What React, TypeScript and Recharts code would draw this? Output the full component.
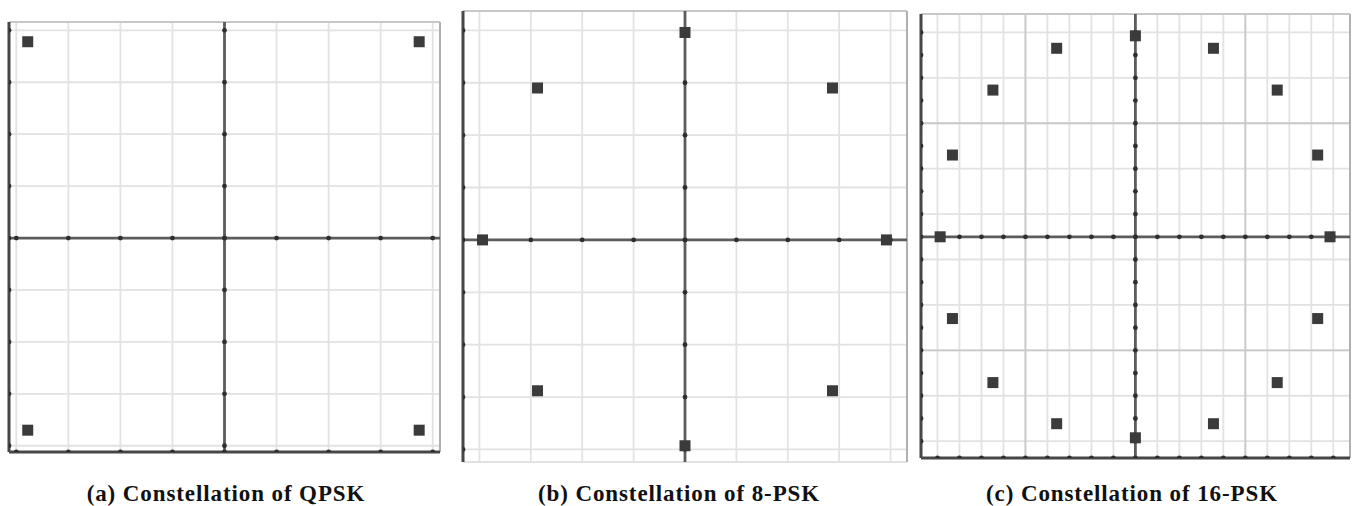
import React from "react";
import { ScatterChart, Scatter, XAxis, YAxis, CartesianGrid, ReferenceLine } from "recharts";

// QPSK symbols (I / Q)
const QPSK_I = [-3.78, 3.74, -3.78, 3.74];
const QPSK_Q = [3.78, 3.78, -3.7, -3.7];
const QPSK_TICKS = [-4, -3, -2, -1, 0, 1, 2, 3, 4];
const QPSK_X_DOMAIN = [-4.14, 4.14];
const QPSK_Y_DOMAIN = [-4.12, 4.16];

// 8-PSK symbols, panel (b)
const PSK8_I = [0, -2.87, 2.87, -3.94, 3.92, -2.87, 2.87, 0];
const PSK8_Q = [3.96, 2.9, 2.9, 0, 0, -2.88, -2.88, -3.93];
const PSK8_TICKS = [-4, -3, -2, -1, 0, 1, 2, 3, 4];
const PSK8_X_DOMAIN = [-4.32, 4.32];
const PSK8_Y_DOMAIN = [-4.24, 4.37];

// 16-PSK symbols, panel (c)
const PSK16_I = [0, 0, -8.88, 8.85, -3.58, 3.55, -6.48, 6.45, -8.32, 8.29, -8.32, 8.29, -6.48, 6.45, -3.58, 3.55];
const PSK16_Q = [8.85, -8.85, 0, 0, 8.3, 8.3, 6.46, 6.46, 3.6, 3.6, -3.6, -3.6, -6.42, -6.42, -8.23, -8.23];
const PSK16_TICKS = [-9, -8, -7, -6, -5, -4, -3, -2, -1, 0, 1, 2, 3, 4, 5, 6, 7, 8, 9];
const PSK16_MAJOR = [-5, 5];
const PSK16_X_DOMAIN = [-9.75, 9.76];
const PSK16_Y_DOMAIN = [-9.74, 9.81];

const CAPTIONS = ["(a) Constellation of QPSK", "(b) Constellation of 8-PSK", "(c) Constellation of 16-PSK"];

const toPoints = (xs: number[], ys: number[]) => xs.map((x, i) => ({ x, y: ys[i] }));

// little dots where the grid crosses the axes and the left/bottom frame
const axisDots = (ticks: number[], xEdge: number, yEdge: number | null) => [
  ...ticks.map(t => ({ x: t, y: 0 })),
  ...ticks.map(t => ({ x: 0, y: t })),
  ...ticks.map(t => ({ x: xEdge, y: t })),
  ...(yEdge === null ? [] : ticks.map(t => ({ x: t, y: yEdge }))),
];

const Square = (props: any) => (
  <rect x={props.cx - 5.5} y={props.cy - 5.5} width={11} height={11} fill="#3b3b3b" />
);
const Dot = (props: any) => <circle cx={props.cx} cy={props.cy} r={2.4} fill="#2e2e2e" />;

interface PanelProps {
  left: number;
  width: number;
  height: number;
  margin: { top: number; right: number; bottom: number; left: number };
  xDomain: number[];
  yDomain: number[];
  ticks: number[];
  majors?: number[];
  points: { x: number; y: number }[];
  bottomFrame: boolean;
}

function Panel({ left, width, height, margin, xDomain, yDomain, ticks, majors = [], points, bottomFrame }: PanelProps) {
  const dots = axisDots(ticks, xDomain[0], bottomFrame ? yDomain[0] : null);
  return (
    <div style={{ position: "absolute", left, top: 0 }}>
      <ScatterChart width={width} height={height} margin={margin}>
        <XAxis type="number" dataKey="x" domain={xDomain} ticks={ticks} allowDataOverflow hide />
        <YAxis type="number" dataKey="y" domain={yDomain} ticks={ticks} allowDataOverflow hide />
        <CartesianGrid stroke="#e2e2e2" strokeWidth={1.8} />
        {majors.map(m => (
          <ReferenceLine key={"vx" + m} x={m} stroke="#cacaca" strokeWidth={1.8} />
        ))}
        {majors.map(m => (
          <ReferenceLine key={"hy" + m} y={m} stroke="#cacaca" strokeWidth={1.8} />
        ))}
        <ReferenceLine y={yDomain[1]} stroke="#c8c8c8" strokeWidth={2} />
        <ReferenceLine x={xDomain[1]} stroke="#b0b0b0" strokeWidth={2} />
        <ReferenceLine x={0} stroke="#5c5c5c" strokeWidth={2.8} />
        <ReferenceLine y={0} stroke="#5c5c5c" strokeWidth={2.8} />
        <ReferenceLine x={xDomain[0]} stroke="#474747" strokeWidth={3} />
        {bottomFrame && <ReferenceLine y={yDomain[0]} stroke="#474747" strokeWidth={3} />}
        <Scatter data={dots} shape={Dot} isAnimationActive={false} />
        <Scatter data={points} shape={Square} isAnimationActive={false} />
      </ScatterChart>
    </div>
  );
}

const captionCenters = [226, 679, 1132];

export default function App() {
  return (
    <div style={{ position: "absolute", left: 0, top: 0, width: 1352, height: 506, background: "#fff" }}>
      <Panel
        left={0}
        width={450}
        height={470}
        margin={{ top: 22, right: 10, bottom: 18, left: 9 }}
        xDomain={QPSK_X_DOMAIN}
        yDomain={QPSK_Y_DOMAIN}
        ticks={QPSK_TICKS}
        points={toPoints(QPSK_I, QPSK_Q)}
        bottomFrame
      />
      <Panel
        left={450}
        width={470}
        height={480}
        margin={{ top: 11, right: 13, bottom: 18, left: 13 }}
        xDomain={PSK8_X_DOMAIN}
        yDomain={PSK8_Y_DOMAIN}
        ticks={PSK8_TICKS}
        points={toPoints(PSK8_I, PSK8_Q)}
        bottomFrame={false}
      />
      <Panel
        left={905}
        width={447}
        height={480}
        margin={{ top: 14, right: 2, bottom: 22, left: 16 }}
        xDomain={PSK16_X_DOMAIN}
        yDomain={PSK16_Y_DOMAIN}
        ticks={PSK16_TICKS}
        majors={PSK16_MAJOR}
        points={toPoints(PSK16_I, PSK16_Q)}
        bottomFrame
      />
      {CAPTIONS.map((c, i) => (
        <div
          key={c}
          style={{
            position: "absolute",
            left: captionCenters[i] - 200,
            top: 482,
            width: 400,
            textAlign: "center",
            fontFamily: "'Liberation Serif', 'Times New Roman', serif",
            fontWeight: "bold",
            fontSize: 23,
            lineHeight: "23px",
            letterSpacing: 0.9,
            color: "#111",
          }}
        >
          {c}
        </div>
      ))}
    </div>
  );
}
